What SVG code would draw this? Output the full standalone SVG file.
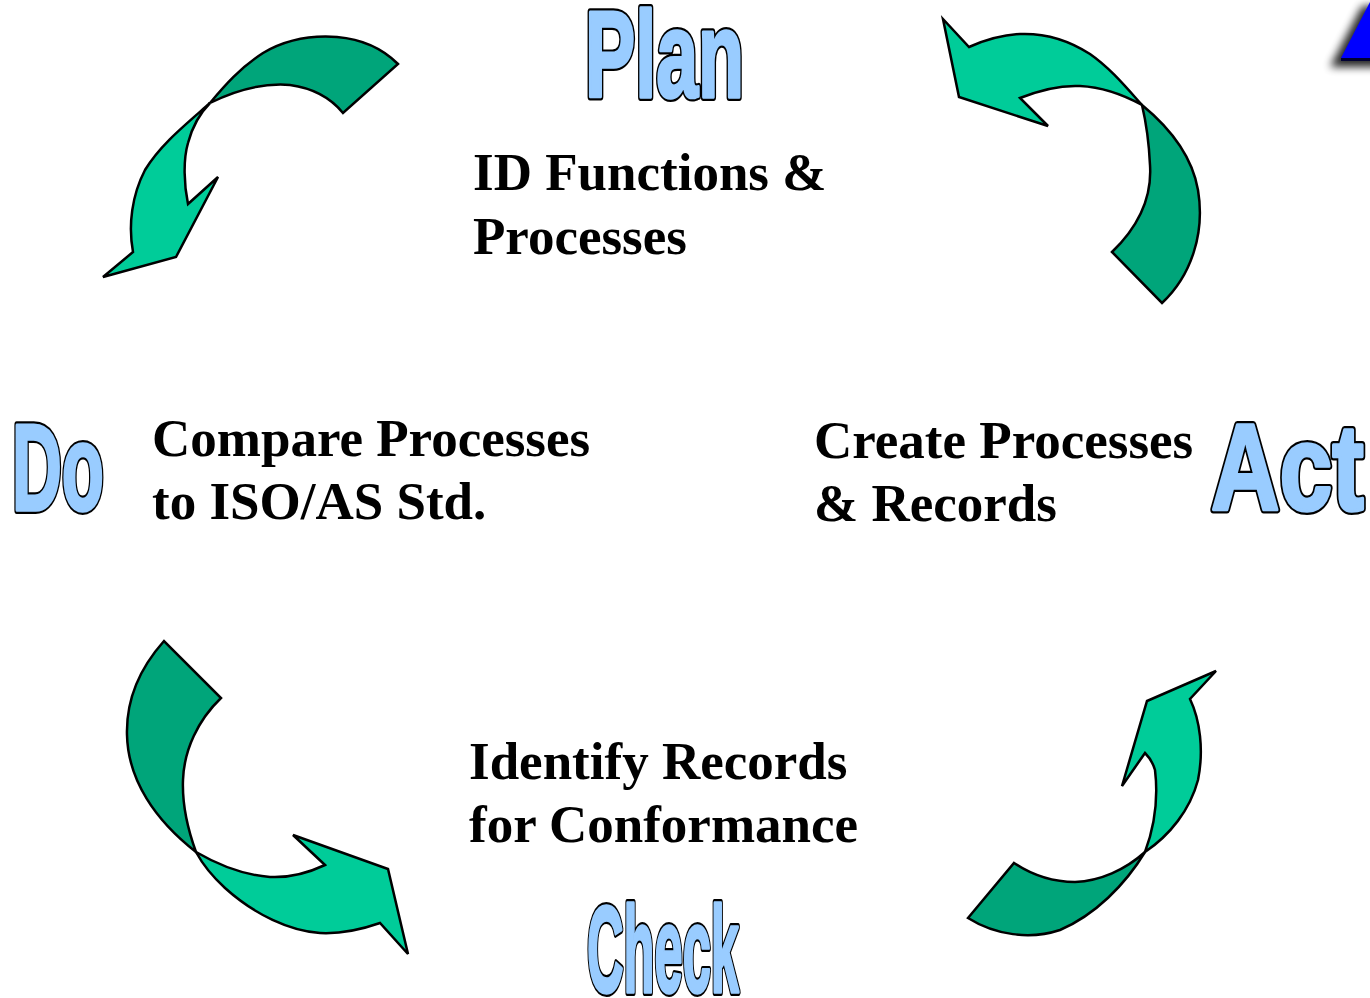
<svg xmlns="http://www.w3.org/2000/svg" width="1370" height="998" viewBox="0 0 1370 998">
  <style>
    .bg { fill: #ffffff; }
    .phase { font-family: "Liberation Sans", Arial, sans-serif; font-weight: bold; font-size: 122px; stroke-linejoin: round; }
    .phase-outline { fill: #99ccff; stroke: #000000; stroke-width: 8; }
    .phase-face { fill: #99ccff; stroke: #99ccff; stroke-width: 3.6; }
    .desc { font-family: "Liberation Serif", "Times New Roman", serif; font-weight: bold; font-size: 53px; fill: #000000; }
    .band-dark { fill: #00a57a; stroke: #000000; stroke-width: 2.5; stroke-linejoin: miter; }
    .band-light { fill: #00cc99; stroke: #000000; stroke-width: 2.5; stroke-linejoin: miter; }
  </style>
  <defs>
    <filter id="softShadow" x="-50%" y="-50%" width="200%" height="200%">
      <feGaussianBlur stdDeviation="4.5"/>
    </filter>
    <!-- phase words: black outline drawn first, widened blue face on top -->
    <text id="w-plan" class="phase" x="585" y="97" textLength="159" lengthAdjust="spacingAndGlyphs">Plan</text>
    <text id="w-do" class="phase" x="12" y="510" textLength="92" lengthAdjust="spacingAndGlyphs">Do</text>
    <text id="w-check" class="phase" x="587" y="992" textLength="152" lengthAdjust="spacingAndGlyphs">Check</text>
    <text id="w-act" class="phase" x="1211" y="510" textLength="153" lengthAdjust="spacingAndGlyphs">Act</text>
  </defs>

  <rect class="bg" x="0" y="0" width="1370" height="998"/>

  <!-- corner triangle with drop shadow -->
  <g id="corner-mark">
    <polygon points="1330,67 1362,6 1380,6 1380,67" fill="#000000" opacity="0.85" filter="url(#softShadow)"/>
    <polygon points="1341,58 1371,0 1380,0 1380,58" fill="#0000ff"/>
    <line x1="1341" y1="59.5" x2="1380" y2="59.5" stroke="#000033" stroke-width="3"/>
  </g>

  <!-- Plan -->
  <g id="node-plan">
    <use href="#w-plan" class="phase-outline"/>
    <use href="#w-plan" class="phase-face"/>
    <text class="desc" x="473" y="190">ID Functions &amp;</text>
    <text class="desc" x="473" y="254">Processes</text>
  </g>

  <!-- Do -->
  <g id="node-do">
    <use href="#w-do" class="phase-outline"/>
    <use href="#w-do" class="phase-face"/>
    <text class="desc" x="152" y="456">Compare Processes</text>
    <text class="desc" x="152" y="519">to ISO/AS Std.</text>
  </g>

  <!-- Check -->
  <g id="node-check">
    <use href="#w-check" class="phase-outline"/>
    <use href="#w-check" class="phase-face"/>
    <text class="desc" x="469" y="779">Identify Records</text>
    <text class="desc" x="469" y="842">for Conformance</text>
  </g>

  <!-- Act -->
  <g id="node-act">
    <use href="#w-act" class="phase-outline"/>
    <use href="#w-act" class="phase-face"/>
    <text class="desc" x="814" y="458">Create Processes</text>
    <text class="desc" x="814" y="521">&amp; Records</text>
  </g>

  <!-- curved ribbon arrows linking the phases -->
  <g id="connectors">
    <!-- Plan to Do (top left) -->
    <g id="arrow-plan-do">
      <path class="band-dark" d="M 210,103 C 225,85 240,68 263,53 C 285,40 310,35 337,37 C 360,39 382,48 398,64 L 343,113 C 330,97 312,88 290,85 C 265,83 240,88 210,103 Z"/>
      <path class="band-light" d="M 210,103 C 185,125 160,145 145,170 C 132,195 128,225 133,252 L 103,277 L 176,257 L 218,177 L 188,204 C 184,185 183,160 188,143 C 192,128 200,113 210,103 Z"/>
    </g>
    <!-- Act to Plan (top right) -->
    <g id="arrow-act-plan">
      <path class="band-dark" d="M 1142,105 C 1170,128 1192,155 1198,190 C 1205,232 1192,275 1162,303 L 1112,252 C 1140,225 1152,195 1150,165 C 1149,143 1146,122 1142,105 Z"/>
      <path class="band-light" d="M 1142,105 C 1125,86 1110,68 1090,54 C 1070,41 1045,33 1020,34 C 1000,35 985,40 969,47 L 943,19 L 959,97 L 1048,126 L 1020,98 C 1040,90 1060,85 1080,86 C 1100,87 1122,94 1142,105 Z"/>
    </g>
    <!-- Do to Check (bottom left) -->
    <g id="arrow-do-check">
      <path class="band-dark" d="M 164,641 C 140,668 126,700 127,735 C 128,780 155,820 196,852 C 188,830 182,805 183,780 C 184,750 198,720 221,698 Z"/>
      <path class="band-light" d="M 196,852 C 220,866 245,875 270,877 C 290,878 308,873 325,865 L 293,835 L 388,869 L 408,954 L 380,923 C 360,930 340,934 320,933 C 290,931 255,915 225,888 C 213,877 203,865 196,852 Z"/>
    </g>
    <!-- Check to Act (bottom right) -->
    <g id="arrow-check-act">
      <path class="band-dark" d="M 968,918 L 1014,863 C 1035,877 1055,882 1075,882 C 1100,881 1125,870 1145,852 C 1125,885 1095,915 1060,930 C 1030,940 995,935 968,918 Z"/>
      <path class="band-light" d="M 1145,852 C 1155,825 1158,795 1155,770 C 1153,763 1150,758 1145,753 L 1122,786 L 1147,701 L 1216,671 L 1190,699 C 1200,720 1204,750 1198,780 C 1190,810 1170,835 1145,852 Z"/>
    </g>
  </g>
</svg>
